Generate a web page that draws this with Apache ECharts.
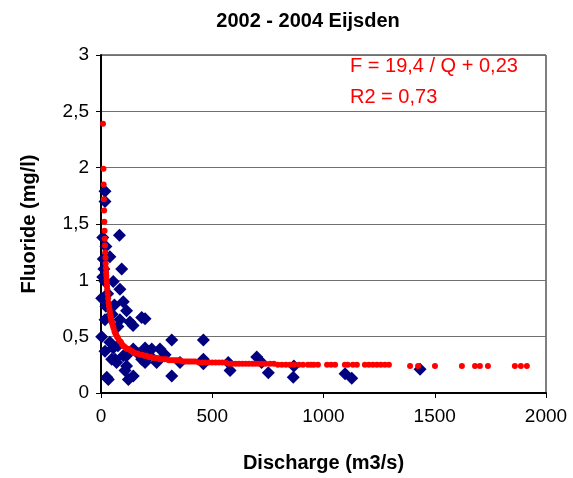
<!DOCTYPE html>
<html>
<head>
<meta charset="utf-8">
<script src="https://cdn.jsdelivr.net/npm/echarts@6/dist/echarts.min.js"></script>
<style>
html,body{margin:0;padding:0;background:#fff;}
#chart{width:573px;height:478px;}
</style>
</head>
<body>
<div id="chart"></div>
<script>
// Measured points (blue diamonds)
const measuredQ = [18,18,83,22,40,93,13,55,18,85,3,100,115,22,183,198,85,18,130,144,50,76,3,318,460,55,145,198,228,265,48,115,190,250,355,460,460,580,572,700,722,752,108,33,145,318,867,864,1097,1127,1434,115,63,183,198,70,100,26,123,8,10,8,40,76,18,166,220,288,30,60];
const measuredF = [1.79,1.70,1.40,1.30,1.21,1.10,1.10,0.99,0.99,0.92,0.84,0.81,0.73,0.77,0.67,0.66,0.65,0.65,0.63,0.60,0.70,0.59,0.50,0.47,0.47,0.40,0.39,0.40,0.39,0.39,0.30,0.33,0.32,0.27,0.27,0.30,0.26,0.20,0.27,0.32,0.27,0.18,0.20,0.12,0.15,0.15,0.24,0.14,0.17,0.13,0.21,0.24,0.30,0.30,0.27,0.27,0.33,0.14,0.12,1.38,1.19,1.03,0.45,0.42,0.37,0.35,0.33,0.34,0.88,0.78];

// Fitted values (red dots)
const fitQ = [9,11,12,13,14,15,16,17,18,19,20,21,22,23,24,25,26,27,28,30,32,34,36,38,40,42,44,46,48,50,53,56,60,64,68,72,76,80,85,90,95,100,106,112,118,125,132,140,148,156,165,175,185,195,205,215,225,235,245,255,265,275,285,295,305,315,325,335,345,355,365,375,385,395,405,415,425,440,455,470,485,500,515,530,545,560,575,590,605,620,635,650,665,680,695,710,725,740,760,777,795,813,831,849,867,890,908,930,944,957,975,1016,1034,1052,1096,1109,1132,1150,1186,1204,1222,1240,1258,1276,1294,1389,1425,1501,1622,1681,1703,1739,1860,1887,1914];
const fitF = [2.39,1.99,1.85,1.72,1.62,1.52,1.44,1.37,1.31,1.25,1.20,1.15,1.11,1.07,1.04,1.01,0.98,0.95,0.92,0.88,0.84,0.80,0.77,0.74,0.72,0.69,0.67,0.65,0.63,0.62,0.60,0.58,0.55,0.53,0.52,0.50,0.49,0.47,0.46,0.45,0.43,0.42,0.41,0.40,0.39,0.39,0.38,0.37,0.36,0.35,0.35,0.34,0.34,0.33,0.33,0.32,0.32,0.31,0.31,0.31,0.30,0.30,0.30,0.30,0.29,0.29,0.29,0.29,0.29,0.29,0.28,0.28,0.28,0.28,0.28,0.28,0.28,0.27,0.27,0.27,0.27,0.27,0.27,0.27,0.27,0.27,0.26,0.26,0.26,0.26,0.26,0.26,0.26,0.26,0.26,0.26,0.26,0.26,0.26,0.26,0.25,0.25,0.25,0.25,0.25,0.25,0.25,0.25,0.25,0.25,0.25,0.25,0.25,0.25,0.25,0.25,0.25,0.25,0.25,0.25,0.25,0.25,0.25,0.25,0.25,0.24,0.24,0.24,0.24,0.24,0.24,0.24,0.24,0.24,0.24];

const xTicks = [0,500,1000,1500,2000];
const yTicks = [0,0.5,1,1.5,2,2.5,3];
const titleText = '2002 - 2004 Eijsden';
const eqLines = ['F = 19,4 / Q + 0,23', 'R2 = 0,73'];

const measured = measuredQ.map((q,i)=>[q, measuredF[i]]);
const fitted = fitQ.map((q,i)=>[q, fitF[i]]);
const fmt = v => String(v).replace('.', ',');
const FONT = 'Liberation Sans, Arial, sans-serif';

const chart = echarts.init(document.getElementById('chart'), null, {renderer:'canvas'});
chart.setOption({
  animation:false,
  backgroundColor:'#fff',
  grid:{left:101, right:27, top:55, bottom:84, show:true, borderColor:'#000', borderWidth:1, backgroundColor:'transparent'},
  xAxis:{
    type:'value', min:xTicks[0], max:xTicks[xTicks.length-1], interval:500,
    name:'Discharge (m3/s)', nameLocation:'middle', nameGap:60,
    nameTextStyle:{fontFamily:FONT, fontWeight:'bold', fontSize:20, color:'#000'},
    axisLine:{show:true, onZero:false, lineStyle:{color:'#000', width:2}},
    axisTick:{show:true, inside:false, length:5, lineStyle:{color:'#000', width:1}},
    axisLabel:{fontFamily:FONT, fontSize:19, color:'#000', margin:14, formatter:fmt},
    splitLine:{show:false}
  },
  yAxis:{
    type:'value', min:yTicks[0], max:yTicks[yTicks.length-1], interval:0.5,
    name:'Fluoride (mg/l)', nameLocation:'middle', nameGap:62, nameRotate:90,
    nameTextStyle:{fontFamily:FONT, fontWeight:'bold', fontSize:20, color:'#000'},
    axisLine:{show:true, onZero:false, lineStyle:{color:'#000', width:2}},
    axisTick:{show:true, inside:false, length:5, lineStyle:{color:'#000', width:1}},
    axisLabel:{fontFamily:FONT, fontSize:19, color:'#000', margin:12, formatter:fmt},
    splitLine:{show:true, lineStyle:{color:'#707070', width:1}}
  },
  series:[
    {type:'scatter', name:'measured', data:measured, symbol:'diamond', symbolSize:13,
     itemStyle:{color:'#000080', opacity:1}, emphasis:{disabled:true}, z:2},
    {type:'scatter', name:'fit', data:fitted, symbol:'circle', symbolSize:6,
     itemStyle:{color:'#ff0000', opacity:1}, emphasis:{disabled:true}, z:3}
  ],
  graphic:[
    {type:'text', x:308, y:21, style:{text:titleText, font:'bold 20px '+FONT, fill:'#000', align:'center', verticalAlign:'middle', textAlign:'center', textVerticalAlign:'middle'}},
    {type:'text', x:350, y:66, style:{text:eqLines[0], font:'20px '+FONT, fill:'#ff0000', align:'left', verticalAlign:'middle', textAlign:'left', textVerticalAlign:'middle'}},
    {type:'text', x:350, y:97, style:{text:eqLines[1], font:'20px '+FONT, fill:'#ff0000', align:'left', verticalAlign:'middle', textAlign:'left', textVerticalAlign:'middle'}}
  ]
});
</script>
</body>
</html>
